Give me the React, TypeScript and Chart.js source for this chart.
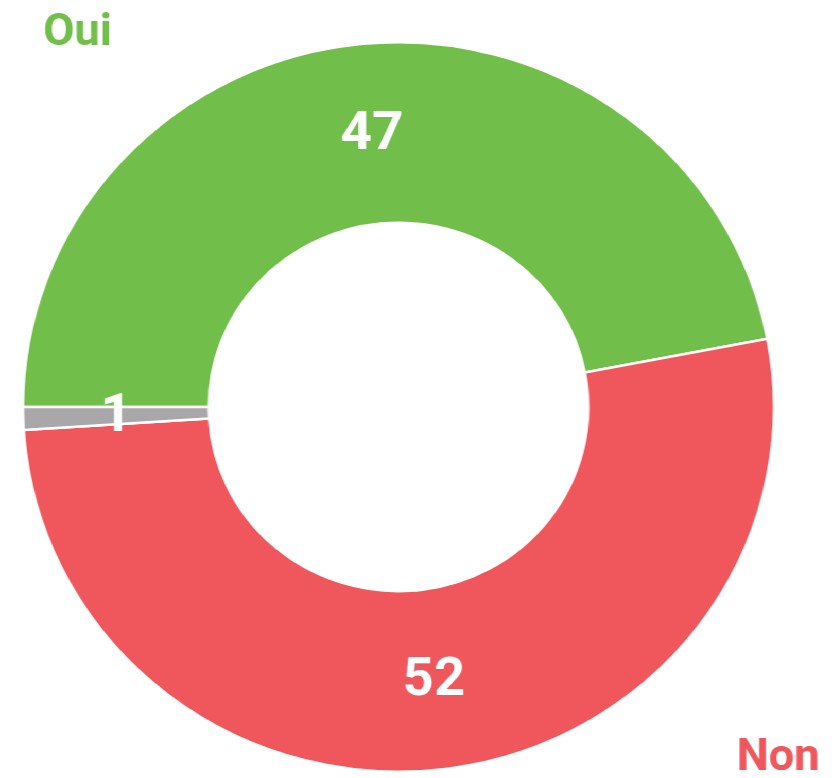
import React, { useEffect, useRef } from "react";
import { Chart, registerables } from "chart.js";

Chart.register(...registerables);

const categories = ["Oui", "Non", ""];
const values = [47, 52, 1];
const colors = ["#72be4a", "#ef575d", "#aaa7aa"];
const cornerLabels = ["Oui", "Non"];
const cornerColors = ["#72be4a", "#ef575d"];

const FONT = "Roboto, 'Liberation Sans', Arial, sans-serif";
const W = 808;
const H = 778;
const SX = 832 / W;

const valueLabelPlugin = {
  id: "valueLabels",
  afterDatasetsDraw(chart: any) {
    const ctx = chart.ctx;
    const meta = chart.getDatasetMeta(0);
    ctx.save();
    ctx.fillStyle = "#ffffff";
    ctx.textAlign = "center";
    ctx.textBaseline = "middle";
    ctx.font = `bold 53px ${FONT}`;
    meta.data.forEach((arc: any, i: number) => {
      const p = arc.tooltipPosition(false);
      ctx.fillText(String(values[i]), p.x, p.y + 2);
    });
    ctx.restore();
  },
};

const cornerLabelPlugin = {
  id: "cornerLabels",
  afterDraw(chart: any) {
    const ctx = chart.ctx;
    ctx.save();
    ctx.font = `bold 44px ${FONT}`;
    ctx.textBaseline = "alphabetic";
    ctx.fillStyle = cornerColors[0];
    ctx.textAlign = "left";
    ctx.fillText(cornerLabels[0], 42, 45);
    ctx.fillStyle = cornerColors[1];
    ctx.textAlign = "right";
    ctx.fillText(cornerLabels[1], 796, 770);
    ctx.restore();
  },
};

export default function App() {
  const ref = useRef<HTMLCanvasElement>(null);
  useEffect(() => {
    if (!ref.current) return;
    const chart = new Chart(ref.current, {
      type: "doughnut",
      data: {
        labels: categories,
        datasets: [
          {
            data: values,
            backgroundColor: colors,
            borderColor: "#ffffff",
            borderWidth: 2.5,
          },
        ],
      },
      options: {
        responsive: false,
        animation: false,
        rotation: -90,
        cutout: "50.5%",
        layout: { padding: { left: 21, top: 41, right: 55, bottom: 5 } },
        plugins: {
          legend: { display: false },
          tooltip: { enabled: false },
        },
      },
      plugins: [valueLabelPlugin, cornerLabelPlugin],
    });
    return () => chart.destroy();
  }, []);
  return (
    <div
      style={{
        position: "fixed",
        left: 0,
        top: 0,
        width: W,
        height: H,
        background: "#ffffff",
        transform: `scaleX(${SX})`,
        transformOrigin: "0 0",
      }}
    >
      <canvas ref={ref} width={W} height={H} />
    </div>
  );
}
